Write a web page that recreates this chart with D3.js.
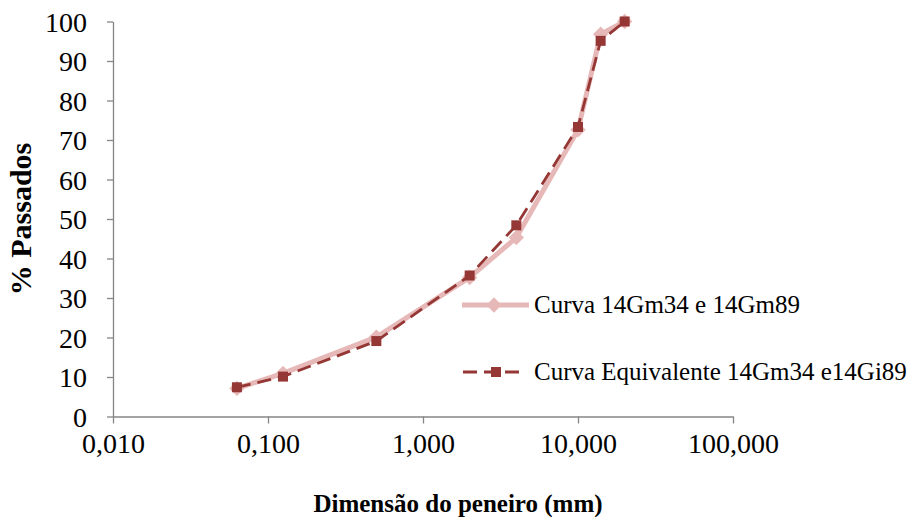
<!DOCTYPE html>
<html>
<head>
<meta charset="utf-8">
<script src="https://cdn.jsdelivr.net/npm/d3@7"></script>
<style>
  html, body { margin: 0; padding: 0; background: #fff; }
  svg { display: block; }
  text { font-family: "Liberation Serif", "Times New Roman", serif; fill: #000; }
</style>
</head>
<body>
<svg id="chart" width="913" height="517"></svg>
<script>
// Sieve sizes (mm) and % passing for the two grading curves
const sieves = [0.063, 0.125, 0.5, 2, 4, 10, 14, 20];
const curvaGm = [7.1, 10.9, 20.1, 35.2, 45.3, 72.6, 96.8, 100];
const curvaEquivalente = [7.4, 10.1, 19.1, 35.7, 48.4, 73.3, 95.1, 100];
const seriesNames = ["Curva 14Gm34 e 14Gm89", "Curva Equivalente 14Gm34 e14Gi89"];
const xTicks = [0.01, 0.1, 1, 10, 100];
const yTicks = [0, 10, 20, 30, 40, 50, 60, 70, 80, 90, 100];

const svg = d3.select("#chart");
const plotLeft = 113, plotRight = 733, plotTop = 21.5, plotBottom = 416.5;
const axisColor = "#868686";
const pink = "#E6B9B8", darkRed = "#953735";
const serif = "'Liberation Serif', 'Times New Roman', serif";

const x = d3.scaleLog().domain([0.01, 100]).range([plotLeft, plotRight]);
const y = d3.scaleLinear().domain([0, 100]).range([plotBottom, plotTop]);

const fmt = v => v.toFixed(3).replace(".", ",");

function styleAxis(g) {
  g.attr("font-family", serif).attr("font-size", 28);
  g.select(".domain").attr("stroke", axisColor).attr("stroke-width", 1.3);
  g.selectAll(".tick line").attr("stroke", axisColor).attr("stroke-width", 1.3);
  g.selectAll(".tick text").attr("fill", "#000");
}

// Y axis
const yAxis = svg.append("g")
  .attr("transform", `translate(${plotLeft},0)`)
  .call(d3.axisLeft(y).tickValues(yTicks).tickSize(6).tickPadding(20).tickSizeOuter(0));
styleAxis(yAxis);
yAxis.selectAll(".tick text").attr("dy", "0.34em");

// X axis
const xAxis = svg.append("g")
  .attr("transform", `translate(0,${plotBottom})`)
  .call(d3.axisBottom(x).tickValues(xTicks).tickFormat(fmt).tickSize(7).tickPadding(10).tickSizeOuter(0));
styleAxis(xAxis);
xAxis.selectAll(".tick text").attr("dy", "0.68em");

// Axis titles
svg.append("text")
  .attr("transform", `translate(31,219) rotate(-90)`)
  .attr("text-anchor", "middle")
  .attr("font-family", serif).attr("font-size", 30).attr("font-weight", "bold")
  .text("% Passados");
svg.append("text")
  .attr("x", 458).attr("y", 512)
  .attr("text-anchor", "middle")
  .attr("font-family", serif).attr("font-size", 25).attr("font-weight", "bold")
  .text("Dimensão do peneiro (mm)");

const line = d3.line().x(d => x(d[0])).y(d => y(d[1]));
const diamond = d3.symbol().type(d3.symbolDiamond2).size(150);

// Series 1: pink solid with diamonds
const s1 = sieves.map((s, i) => [s, curvaGm[i]]);
svg.append("path").datum(s1).attr("d", line)
  .attr("fill", "none").attr("stroke", pink).attr("stroke-width", 5).attr("stroke-linejoin", "round");
svg.append("g").selectAll("path").data(s1).join("path")
  .attr("d", diamond)
  .attr("transform", d => `translate(${x(d[0])},${y(d[1])})`)
  .attr("fill", pink);

// Series 2: dark red dashed with squares
const s2 = sieves.map((s, i) => [s, curvaEquivalente[i]]);
svg.append("path").datum(s2).attr("d", line)
  .attr("fill", "none").attr("stroke", darkRed).attr("stroke-width", 2.8)
  .attr("stroke-dasharray", "14,7");
svg.append("g").selectAll("rect").data(s2).join("rect")
  .attr("x", d => x(d[0]) - 5).attr("y", d => y(d[1]) - 5)
  .attr("width", 10).attr("height", 10)
  .attr("fill", darkRed);

// Legend
const lg = svg.append("g").attr("font-family", serif).attr("font-size", 25);
lg.append("line").attr("x1", 462).attr("x2", 529).attr("y1", 305).attr("y2", 305)
  .attr("stroke", pink).attr("stroke-width", 5);
lg.append("path").attr("d", diamond).attr("transform", "translate(494,305)").attr("fill", pink);
lg.append("text").attr("x", 534).attr("y", 313).text(seriesNames[0]);

lg.append("line").attr("x1", 463).attr("x2", 519).attr("y1", 372).attr("y2", 372)
  .attr("stroke", darkRed).attr("stroke-width", 2.8).attr("stroke-dasharray", "14,7");
lg.append("rect").attr("x", 491).attr("y", 367).attr("width", 10).attr("height", 10).attr("fill", darkRed);
lg.append("text").attr("x", 534).attr("y", 380).text(seriesNames[1]);
</script>
</body>
</html>
